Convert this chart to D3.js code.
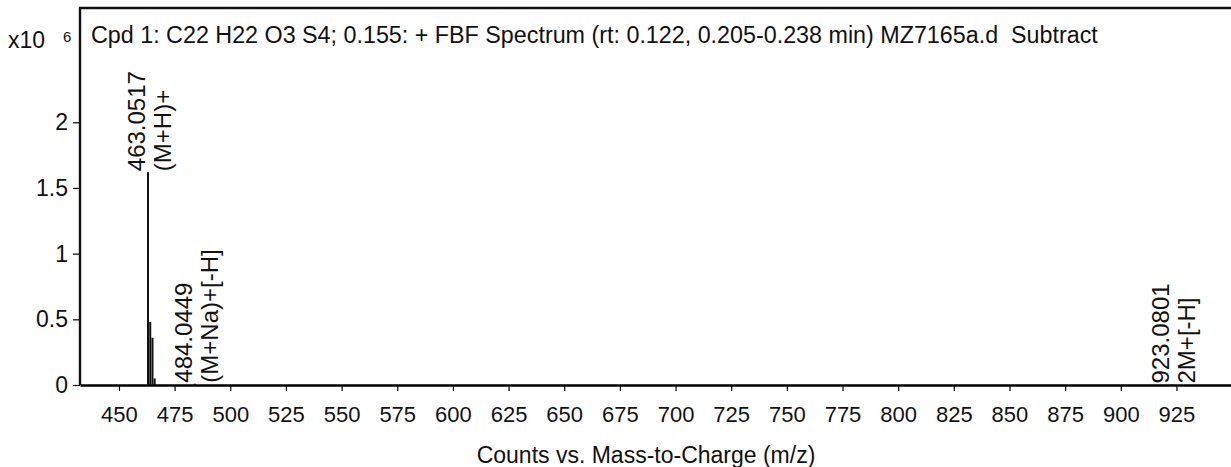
<!DOCTYPE html>
<html>
<head>
<meta charset="utf-8">
<script src="https://cdn.jsdelivr.net/npm/d3@7"></script>
<style>
  body { margin: 0; background: #fff; }
  svg { display: block; font-family: "Liberation Sans", Arial, sans-serif; }
</style>
</head>
<body>
<div id="main"></div>
<script>
// Data
const peakMz = [463.05, 464.05, 465.05, 466.05, 484.04, 923.08];
const peakCounts = [1.62e6, 0.48e6, 0.36e6, 0.05e6, 0.01e6, 0.004e6];

const labelMz = [463.0517, 484.0449, 923.0801];
const labelCounts = [1.62e6, 0.01e6, 0.004e6];
const labelMass = ["463.0517", "484.0449", "923.0801"];
const labelIon = ["(M+H)+", "(M+Na)+[-H]", "2M+[-H]"];

const xTicks = d3.range(450, 951, 25);
const xTickLabels = d3.range(450, 926, 25);
const yTicks = [0, 0.5e6, 1e6, 1.5e6, 2e6];
const yTickLabels = ["0", "0.5", "1", "1.5", "2"];

const title =
  "Cpd 1: C22 H22 O3 S4; 0.155: + FBF Spectrum (rt: 0.122, 0.205-0.238 min) MZ7165a.d  Subtract";
const xTitle = "Counts vs. Mass-to-Charge (m/z)";

// Layout config
const width = 1231;
const height = 467;
const margin = { top: 8, right: 0, bottom: 82, left: 80 };
const innerWidth = width - margin.left - margin.right;
const innerHeight = height - margin.top - margin.bottom;

const svg = d3
  .select("#main")
  .append("svg")
  .attr("width", width)
  .attr("height", height);

const g = svg
  .append("g")
  .attr("transform", `translate(${margin.left},${margin.top})`);

// Scales
const x = d3.scaleLinear().domain([432.5, 949.5]).range([0, innerWidth]);
const y = d3.scaleLinear().domain([0, 2.87e6]).range([innerHeight, 0]);

// x axis
const xg = g
  .append("g")
  .attr("transform", `translate(0,${innerHeight})`)
  .call(
    d3
      .axisBottom(x)
      .tickValues(xTicks)
      .tickSize(6)
      .tickSizeOuter(0)
      .tickPadding(15)
      .tickFormat((d) => (xTickLabels.includes(d) ? d : ""))
  )
  .attr("font-size", 22)
  .attr("font-family", null);
xg.select(".domain").attr("stroke-width", 2.4);
xg.selectAll(".tick line").attr("stroke-width", 1.2);
xg.selectAll("text").attr("fill", "#111");
xg.selectAll(".tick")
  .filter((d) => !xTickLabels.includes(d))
  .select("text")
  .remove();

// y axis
const yg = g
  .append("g")
  .call(
    d3
      .axisLeft(y)
      .tickValues(yTicks)
      .tickSize(7)
      .tickPadding(5)
      .tickFormat((d, i) => yTickLabels[i])
  )
  .attr("font-size", 23)
  .attr("font-family", null);
yg.select(".domain").remove();
yg.selectAll(".tick line").attr("stroke-width", 1.2);
yg.selectAll("text").attr("fill", "#111");

// frame: left and top edges
g.append("path")
  .attr("d", `M${innerWidth},0H0V${innerHeight}`)
  .attr("fill", "none")
  .attr("stroke", "#111")
  .attr("stroke-width", 2.4);

// exponent
svg
  .append("text")
  .attr("x", 8)
  .attr("y", 48)
  .attr("font-size", 23)
  .attr("fill", "#111")
  .text("x10");
svg
  .append("text")
  .attr("x", 63)
  .attr("y", 42)
  .attr("font-size", 15)
  .attr("fill", "#111")
  .text("6");

// title
g.append("text")
  .attr("x", 11)
  .attr("y", 35)
  .attr("font-size", 23.3)
  .attr("fill", "#111")
  .style("white-space", "pre")
  .text(title);

// x axis title
svg
  .append("text")
  .attr("x", 646)
  .attr("y", 463)
  .attr("text-anchor", "middle")
  .attr("font-size", 23)
  .attr("fill", "#111")
  .text(xTitle);

// peaks
g.append("g")
  .selectAll("line")
  .data(peakMz)
  .join("line")
  .attr("x1", (d) => x(d))
  .attr("x2", (d) => x(d))
  .attr("y1", y(0))
  .attr("y2", (d, i) => y(peakCounts[i]))
  .attr("stroke", "#111")
  .attr("stroke-width", 2);

// peak labels
const lab = g
  .append("g")
  .selectAll("g")
  .data(labelMz)
  .join("g")
  .attr(
    "transform",
    (d, i) => `translate(${x(d)},${y(labelCounts[i]) - 1}) rotate(-90)`
  )
  .attr("font-size", 24)
  .attr("fill", "#111");
lab
  .append("text")
  .attr("y", -3)
  .text((d, i) => labelMass[i]);
lab
  .append("text")
  .attr("y", 23)
  .text((d, i) => labelIon[i]);
</script>
</body>
</html>
